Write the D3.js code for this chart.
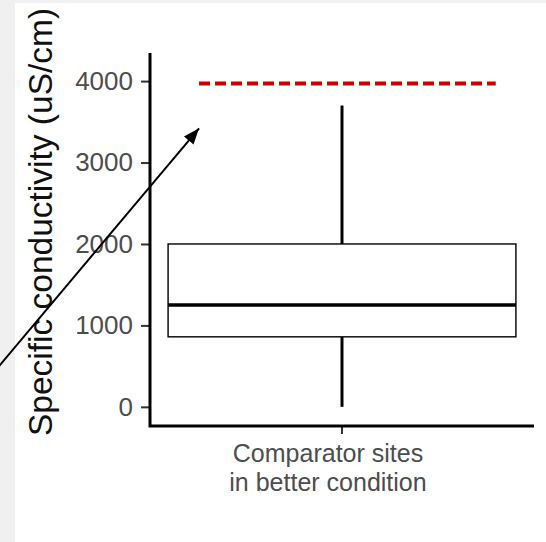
<!DOCTYPE html>
<html>
<head>
<meta charset="utf-8">
<script src="https://cdn.jsdelivr.net/npm/d3@7"></script>
<style>
  html, body { margin: 0; padding: 0; background: #f0f0f0; }
  svg { display: block; }
</style>
</head>
<body>
<svg id="chart" width="546" height="542"></svg>
<script>
// Box-plot summary for specific conductivity at comparator sites
const categories = ["Comparator sites\nin better condition"];
const boxMin = [0];
const boxQ1 = [860];
const boxMedian = [1250];
const boxQ3 = [2000];
const boxMax = [3700];
const yTicks = [0, 1000, 2000, 3000, 4000];
const yDomain = [-235, 4345];
const threshold = 3970;     // red dashed benchmark line
const arrowFrom = 500;      // arrow tail level (data units)
const arrowTo = 3420;       // arrow head level (data units)

const W = 546, H = 542;
const svg = d3.select("#chart");

// white canvas
svg.append("rect").attr("x", 15).attr("y", 3).attr("width", W - 15).attr("height", H - 3).attr("fill", "#ffffff");

const panel = { left: 150, right: 534, top: 53, bottom: 426 };

const x = d3.scaleBand().domain(categories).range([panel.left, panel.right])
  .paddingInner(0).paddingOuter(0.052);
const y = d3.scaleLinear().domain(yDomain).range([panel.bottom, panel.top]);

const fontFamily = "Arial, 'Liberation Sans', Helvetica, sans-serif";

// y axis
const yAxis = svg.append("g").attr("transform", `translate(${panel.left},0)`)
  .call(d3.axisLeft(y).tickValues(yTicks).tickFormat(d3.format("d")).tickSize(9).tickPadding(8));
yAxis.select(".domain").remove();
yAxis.selectAll(".tick line").attr("stroke", "#333").attr("stroke-width", 2);
yAxis.selectAll(".tick text").attr("fill", "#4d4d4d").style("font-family", fontFamily).style("font-size", "26px");

// x axis
const xAxis = svg.append("g").attr("transform", `translate(0,${panel.bottom})`)
  .call(d3.axisBottom(x).tickSize(8).tickFormat(""));
xAxis.select(".domain").remove();
xAxis.selectAll(".tick line").attr("stroke", "#333").attr("stroke-width", 2);

// axis lines
svg.append("path")
  .attr("d", `M${panel.left},${panel.top}V${panel.bottom}H${panel.right}`)
  .attr("fill", "none").attr("stroke", "#000").attr("stroke-width", 3);

// x category label (two lines)
categories.forEach(c => {
  const lines = c.split("\n");
  const lx = x(c) + x.bandwidth() / 2 - 14;
  const t = svg.append("text")
    .attr("x", lx)
    .attr("y", 462)
    .attr("text-anchor", "middle")
    .attr("fill", "#4d4d4d")
    .style("font-family", fontFamily).style("font-size", "25px");
  lines.forEach((l, i) => t.append("tspan").attr("x", lx).attr("dy", i === 0 ? 0 : 28.5).text(l));
});

// y axis title
svg.append("text")
  .attr("transform", `translate(52,222) rotate(-90)`)
  .attr("text-anchor", "middle")
  .attr("fill", "#111")
  .style("font-family", fontFamily).style("font-size", "33.5px")
  .text("Specific conductivity (uS/cm)");

// boxes
const g = svg.append("g");
categories.forEach((c, i) => {
  const cx = x(c) + x.bandwidth() / 2;
  // whiskers
  g.append("line").attr("x1", cx).attr("x2", cx).attr("y1", y(boxMin[i])).attr("y2", y(boxQ1[i]))
    .attr("stroke", "#000").attr("stroke-width", 3);
  g.append("line").attr("x1", cx).attr("x2", cx).attr("y1", y(boxQ3[i])).attr("y2", y(boxMax[i]))
    .attr("stroke", "#000").attr("stroke-width", 3);
  // box
  g.append("rect").attr("x", x(c)).attr("y", y(boxQ3[i]))
    .attr("width", x.bandwidth()).attr("height", y(boxQ1[i]) - y(boxQ3[i]))
    .attr("fill", "#fff").attr("stroke", "#000").attr("stroke-width", 1.4);
  // median
  g.append("line").attr("x1", x(c)).attr("x2", x(c) + x.bandwidth())
    .attr("y1", y(boxMedian[i])).attr("y2", y(boxMedian[i]))
    .attr("stroke", "#000").attr("stroke-width", 3.5);
});

// threshold line
const c0 = categories[0];
const tx0 = x(c0) + x.bandwidth() * 0.089;
const tx1 = x(c0) + x.bandwidth() * 0.942;
svg.append("line").attr("x1", tx0).attr("x2", tx1).attr("y1", y(threshold)).attr("y2", y(threshold))
  .attr("stroke", "#cc0000").attr("stroke-width", 4).attr("stroke-dasharray", "11,5");

// arrow pointing to the threshold
svg.append("defs").append("marker")
  .attr("id", "head").attr("viewBox", "0 0 10 10").attr("refX", 10).attr("refY", 5)
  .attr("markerWidth", 8).attr("markerHeight", 8).attr("markerUnits", "strokeWidth")
  .attr("orient", "auto")
  .append("path").attr("d", "M0,1.1L10,5L0,8.9Z").attr("fill", "#000");
svg.append("line").attr("x1", -1).attr("y1", y(arrowFrom)).attr("x2", tx0).attr("y2", y(arrowTo))
  .attr("stroke", "#000").attr("stroke-width", 2).attr("marker-end", "url(#head)");
</script>
</body>
</html>
